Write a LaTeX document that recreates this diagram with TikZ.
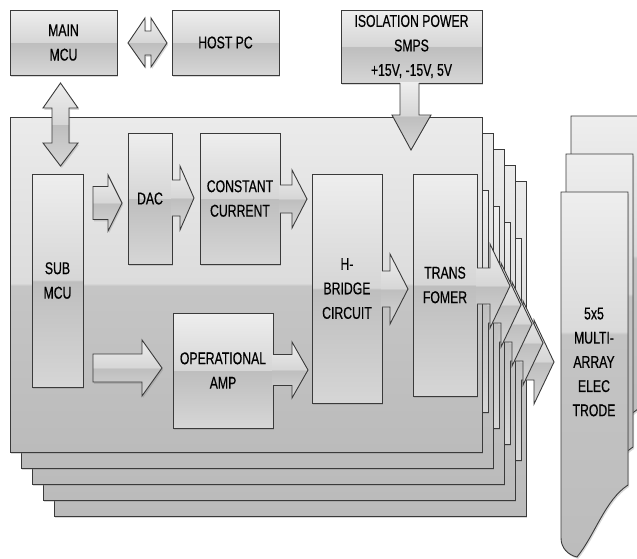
\documentclass[tikz,border=0pt]{standalone}
\usepackage{fontspec}
\setmainfont{Liberation Sans}[FakeStretch=0.72, FakeBold=0.5]
\usetikzlibrary{shadows}
\definecolor{edgec}{HTML}{3A3A3A}
\definecolor{bxT}{HTML}{EEEEEE}
\definecolor{bxMH}{HTML}{D6D6D6}
\definecolor{bxML}{HTML}{BEBEBE}
\definecolor{bxB}{HTML}{D6D6D6}
\definecolor{bdT}{HTML}{EBEBEB}
\definecolor{bdMH}{HTML}{DCDCDC}
\definecolor{bdML}{HTML}{C5C5C5}
\definecolor{bdB}{HTML}{BBBBBB}
\definecolor{elT}{HTML}{EEEEEE}
\definecolor{elMH}{HTML}{DADADA}
\definecolor{elML}{HTML}{C4C4C4}
\definecolor{elB}{HTML}{BCBCBC}
\pgfdeclareverticalshading{glassbox}{100bp}{color(0bp)=(bxB); color(25bp)=(bxB); color(49.8bp)=(bxML); color(50.2bp)=(bxMH); color(75bp)=(bxT); color(100bp)=(bxT)}
\pgfdeclareverticalshading{glassboard}{100bp}{color(0bp)=(bdB); color(25bp)=(bdB); color(49.8bp)=(bdML); color(50.2bp)=(bdMH); color(75bp)=(bdT); color(100bp)=(bdT)}
\pgfdeclareverticalshading{glasselec}{100bp}{color(0bp)=(elB); color(25bp)=(elB); color(55.5bp)=(elML); color(55.9bp)=(elMH); color(75bp)=(elT); color(100bp)=(elT)}
\tikzset{
  edge/.style={draw=edgec, line width=0.9pt, line join=miter},
  shad/.style={drop shadow={opacity=0.3, shadow xshift=1.2pt, shadow yshift=-1.8pt}},
  box/.style={edge, shade, shading=glassbox, shad, inner sep=0pt, align=center,
    text=black, font=\fontsize{17}{24.5}\selectfont},
  board/.style={edge, shade, shading=glassboard, shad},
  elec/.style={edge, shade, shading=glasselec, shad},
  txt/.style={align=center, text=black, font=\fontsize{17}{24.2}\selectfont}
}
% text shown only on the front board
\newcommand\frontonly[2]{\ifnum#1=0 #2\fi}
% open block arrow emerging from a box: x0, yc, xhead, xtip, shaft half, head half
\newcommand\openarrow[6]{%
  \path[shade, shading=glassbox] (#1-1,#2-#5) -- (#3,#2-#5) -- (#3,#2-#6) -- (#4,#2) -- (#3,#2+#6) -- (#3,#2+#5) -- (#1-1,#2+#5) -- cycle;
  \draw[edge] (#1,#2-#5) -- (#3,#2-#5) -- (#3,#2-#6) -- (#4,#2) -- (#3,#2+#6) -- (#3,#2+#5) -- (#1,#2+#5);}
% closed block arrow
\newcommand\closedarrow[6]{%
  \path[edge, shade, shading=glassbox, shad] (#1,#2-#5) -- (#3,#2-#5) -- (#3,#2-#6) -- (#4,#2) -- (#3,#2+#6) -- (#3,#2+#5) -- (#1,#2+#5) -- cycle;}
\newcommand\boardlayer[1]{%
  \begin{scope}[shift={(11*#1,16*#1)}]
    \path[board] (10,117) rectangle (482,452);
    \node[box, minimum width=51, minimum height=213] (sub#1) at (57.5,280.5) {\frontonly{#1}{SUB\\MCU}};
    \closedarrow{93}{203}{108}{122}{16.5}{28}
    \node[box, minimum width=44, minimum height=131] (dac#1) at (150,198.5) {\frontonly{#1}{DAC}};
    \openarrow{172}{198}{180}{194}{18}{32}
    \node[box, minimum width=80, minimum height=131] (cc#1) at (240,198.5) {\frontonly{#1}{CONSTANT\\CURRENT}};
    \openarrow{280}{199}{292}{307}{14}{29}
    \closedarrow{93}{368}{142}{162}{14}{28}
    \node[box, minimum width=100, minimum height=115] (op#1) at (223,370.5) {\frontonly{#1}{OPERATIONAL\\AMP}};
    \openarrow{273}{370}{292}{308}{15.5}{28}
    \node[box, minimum width=70, minimum height=229] (hb#1) at (347,288.5) {\frontonly{#1}{H-\\BRIDGE\\CIRCUIT}};
    \openarrow{382}{289}{390}{408}{18}{35}
    \node[box, minimum width=64, minimum height=222] (tr#1) at (445,285) {\frontonly{#1}{TRANS\\FOMER}};
    \openarrow{477}{286+3*#1}{490}{510}{18}{42}
  \end{scope}}
\newcommand\electrode[2]{%
  \path[elec, shift={(#1,#2)}] (561,192) -- (628,192) -- (628,485)
    .. controls (605,500) and (595,535) .. (577,557)
    .. controls (568,555) and (561,548) .. (561,538) -- cycle;}
\begin{document}
\begin{tikzpicture}[x=1pt,y=-1pt]
  \useasboundingbox (0,0) rectangle (637,558);
  \clip (0,0) rectangle (637,558);
  \fill[white] (0,0) rectangle (637,558);
  % stacked boards, rear first
  \foreach \i in {4,3,2,1,0} {\boardlayer{\i}}
  % electrodes
  \electrode{10}{-76}
  \electrode{5}{-38}
  \electrode{0}{0}
  \node[txt] (el) at (594,362) {5x5\\MULTI-\\ARRAY\\ELEC\\TRODE};
  % top blocks
  \node[box, minimum width=107, minimum height=65] (main) at (63.5,42.5) {MAIN\\MCU};
  \node[box, minimum width=107, minimum height=65] (host) at (225.5,42.5) {HOST PC};
  \node[box, minimum width=141, minimum height=73] (iso) at (411.5,46.5) {ISOLATION POWER\\SMPS\\+15V, -15V, 5V};
  % double arrow MAIN MCU <-> HOST PC
  \path[edge, shade, shading=glassbox, shad] (128,43) -- (145,18) -- (145,31) -- (151,31) -- (151,18)
    -- (167,43) -- (151,67) -- (151,55) -- (145,55) -- (145,67) -- cycle;
  % double arrow MAIN MCU <-> SUB MCU
  \path[edge, shade, shading=glassbox, shad] (60.5,83) -- (78,108) -- (69,108) -- (69,143) -- (78,143)
    -- (60.5,166) -- (43,143) -- (52,143) -- (52,108) -- (43,108) -- cycle;
  % power arrow down
  \path[shade, shading=glassbox] (400,82) -- (400,115) -- (392,115) -- (411,150) -- (431,115) -- (419,115) -- (419,82) -- cycle;
  \draw[edge] (400,83) -- (400,115) -- (392,115) -- (411,150) -- (431,115) -- (419,115) -- (419,83);
\end{tikzpicture}
\end{document}
